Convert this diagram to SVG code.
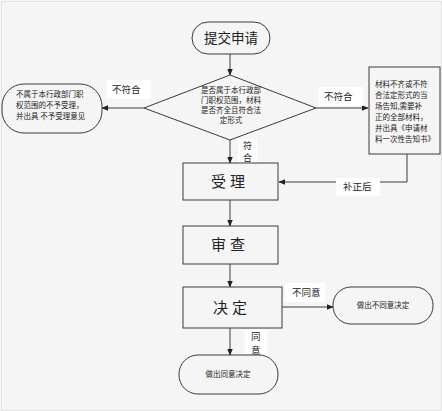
<svg xmlns="http://www.w3.org/2000/svg" width="442" height="411" viewBox="0 0 442 411">
<style>
.shape{stroke:#3a3a3a;stroke-width:1;fill:#f5f5f5}
.line{fill:none;stroke:#3a3a3a;stroke-width:1}
.t{font-family:"Noto Sans CJK SC","Liberation Sans",sans-serif;fill:#222}
.big{font-size:15px;text-anchor:middle}
.small{font-size:7.5px}
.lbl{font-size:9.5px}
.bg{fill:#ffffff}
</style>
<defs>
<marker id="ah" viewBox="0 0 10 10" refX="9" refY="5" markerWidth="7" markerHeight="7" orient="auto" markerUnits="userSpaceOnUse">
<path d="M0,1 L10,5 L0,9 z" fill="#222"/>
</marker>
</defs>
<rect x="0" y="0" width="442" height="411" fill="#f5f5f5"/>
<rect x="1.5" y="1.5" width="440" height="409" fill="none" stroke="#e4e4e4"/>

<g id="connectors">
<line class="line" x1="230" y1="54" x2="230" y2="75" marker-end="url(#ah)"/>
<line class="line" x1="144" y1="108" x2="102" y2="108" marker-end="url(#ah)"/>
<line class="line" x1="316" y1="108" x2="368" y2="108" marker-end="url(#ah)"/>
<line class="line" x1="230" y1="140" x2="230" y2="163" marker-end="url(#ah)"/>
<polyline class="line" points="407,154 407,182 279,182" marker-end="url(#ah)"/>
<line class="line" x1="230" y1="200" x2="230" y2="226" marker-end="url(#ah)"/>
<line class="line" x1="230" y1="264" x2="230" y2="287" marker-end="url(#ah)"/>
<line class="line" x1="282" y1="307" x2="333" y2="307" marker-end="url(#ah)"/>
<line class="line" x1="230" y1="328" x2="230" y2="355" marker-end="url(#ah)"/>
<rect class="bg" x="107" y="80" width="44" height="19"/>
<text class="t lbl" x="112" y="93">不符合</text>
<rect class="bg" x="319" y="87" width="44" height="19"/>
<text class="t lbl" x="324" y="100">不符合</text>
<rect class="bg" x="238" y="139" width="19" height="24"/>
<text class="t" font-size="9" x="243" y="149">符</text>
<text class="t" font-size="9" x="243" y="161">合</text>
<rect class="bg" x="336" y="178" width="44" height="18"/>
<text class="t lbl" x="343" y="190">补正后</text>
<rect class="bg" x="285" y="283" width="40" height="19"/>
<text class="t lbl" x="292" y="296">不同意</text>
<rect class="bg" x="245" y="329" width="22" height="28"/>
<text class="t lbl" x="251" y="340">同</text>
<text class="t lbl" x="251" y="354">意</text>
</g>

<g id="start">
<rect class="shape" x="192" y="22" width="78" height="32" rx="16" ry="16"/>
<text class="t" x="231" y="43" font-size="13.5" text-anchor="middle">提交申请</text>
</g>

<g id="decision">
<polygon class="shape" points="230,75 316,108 230,140 144,108"/>
<text class="t small" x="231" y="93" text-anchor="middle">是否属于本行政部</text>
<text class="t small" x="231" y="103" text-anchor="middle">门职权范围，材料</text>
<text class="t small" x="231" y="113" text-anchor="middle">是否齐全且符合法</text>
<text class="t small" x="231" y="123" text-anchor="middle">定形式</text>
</g>

<g id="reject">
<rect class="shape" x="2" y="84" width="100" height="49" rx="22" ry="22"/>
<text class="t small" x="16" y="97">不属于本行政部门职</text>
<text class="t small" x="16" y="108">权范围的不予受理，</text>
<text class="t small" x="16" y="119">并出具 不予受理意见</text>
</g>

<g id="notify">
<rect class="shape" x="369" y="67" width="71" height="87"/>
<text class="t small" x="375" y="87">材料不齐或不符</text>
<text class="t small" x="375" y="98">合法定形式的当</text>
<text class="t small" x="375" y="109">场告知,需要补</text>
<text class="t small" x="375" y="120">正的全部材料，</text>
<text class="t small" x="375" y="131">并出具《申请材</text>
<text class="t small" x="375" y="142">料一次性告知书》</text>
</g>

<g id="accept">
<rect class="shape" x="183" y="163" width="95" height="37"/>
<text class="t big" x="230" y="187" letter-spacing="4">受理</text>
</g>

<g id="review">
<rect class="shape" x="183" y="226" width="95" height="38"/>
<text class="t big" x="230" y="250" letter-spacing="4">审查</text>
</g>

<g id="decide">
<rect class="shape" x="183" y="287" width="99" height="41"/>
<text class="t big" x="232" y="313" letter-spacing="4">决定</text>
</g>

<g id="deny">
<rect class="shape" x="333" y="287" width="100" height="37" rx="18" ry="18"/>
<text class="t small" x="383" y="308" text-anchor="middle">做出不同意决定</text>
</g>

<g id="approve">
<rect class="shape" x="179" y="355" width="99" height="39" rx="19" ry="19"/>
<text class="t small" x="228" y="377" text-anchor="middle">做出同意决定</text>
</g>
</svg>
